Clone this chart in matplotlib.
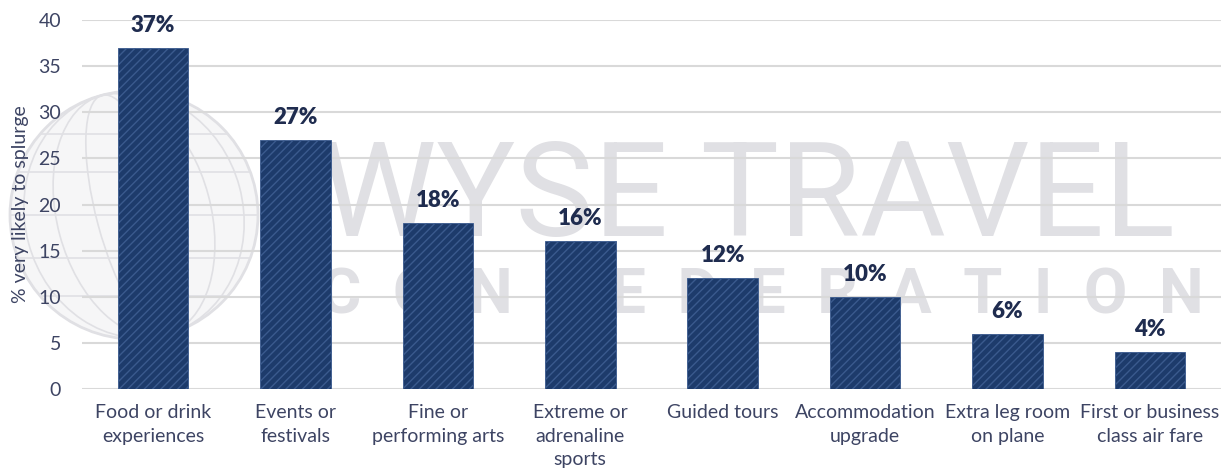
import matplotlib
matplotlib.use("Agg")
import matplotlib.pyplot as plt
from matplotlib.patches import Ellipse, Circle
import numpy as np

categories = ["Food or drink\nexperiences", "Events or\nfestivals", "Fine or\nperforming arts",
              "Extreme or\nadrenaline\nsports", "Guided tours", "Accommodation\nupgrade",
              "Extra leg room\non plane", "First or business\nclass air fare"]
values = [37, 27, 18, 16, 12, 10, 6, 4]
yticks = [0, 5, 10, 15, 20, 25, 30, 35, 40]

plt.rcParams['font.family'] = ['Lato', 'DejaVu Sans']
plt.rcParams['hatch.linewidth'] = 1.0

fig = plt.figure(figsize=(12.29, 4.72), dpi=100)
ax = fig.add_axes([0.0667, 0.1758, 0.9268, 0.7818])

text_col = '#3d4463'
bar_col = '#1d3b6b'
wm_col = '#e0e0e4'

# watermark (globe + text) in figure pixel coords, behind axes
fax = fig.add_axes([0, 0, 1, 1], zorder=-1)
fax.set_xlim(0, 1229)
fax.set_ylim(472, 0)
fax.axis('off')
gx, gy, gr = 134, 215, 124
fax.add_patch(Circle((gx, gy), gr, fc='#f6f6f7', ec=wm_col, lw=2))
for w in [0.3, 0.62, 0.88]:
    fax.add_patch(Ellipse((gx, gy), 2 * gr * w, 2 * gr, angle=-15, fill=False,
                          ec=wm_col, lw=1.2))
for h in [-0.65, -0.35, 0.0, 0.35, 0.65]:
    yy = gy + gr * h
    half = gr * np.sqrt(1 - h * h)
    fax.plot([gx - half, gx + half], [yy, yy], color=wm_col, lw=1.2)

renderer = fig.canvas.get_renderer()


def fit_text(s, x0, x1, ybase, size0, **kw):
    t = fax.text(x0, ybase, s, fontsize=size0, color=wm_col, ha='left', va='baseline', **kw)
    bb = t.get_window_extent(renderer)
    t.set_fontsize(size0 * (x1 - x0) / bb.width)
    return t


fit_text("WYSE TRAVEL", 320, 1175, 236, 100, fontfamily='Roboto', fontweight='normal')
fit_text("C  O  N  F  E  D  E  R  A  T  I  O  N", 320, 1202, 313, 50,
         fontfamily='Roboto', fontweight='bold')

ax.patch.set_alpha(0)
x = np.arange(len(categories))
ax.bar(x, values, width=0.495, color=bar_col, edgecolor='#3a5a8e', linewidth=0.6,
       hatch='////', zorder=3)
for xi, v in zip(x, values):
    ax.text(xi, v + 1.3, f"{v}%", ha='center', va='bottom', fontsize=16,
            fontweight='heavy', color='#1f2c4f', zorder=4)

ax.set_xlim(-0.5, len(categories) - 0.5)
ax.set_ylim(0, 40)
ax.set_yticks(yticks)
ax.set_yticklabels([str(t) for t in yticks])
ax.yaxis.grid(True, color='#d9d9d9', lw=1.5, zorder=0)
ax.set_axisbelow(True)
for s in ax.spines.values():
    s.set_visible(False)
ax.tick_params(axis='both', length=0, colors=text_col, labelsize=14)
ax.tick_params(axis='y', pad=15)
ax.tick_params(axis='x', pad=11)
ax.set_xticks(x)
ax.set_xticklabels(categories, linespacing=1.45)
ax.set_ylabel("% very likely to splurge", fontsize=14, color=text_col, labelpad=7)

fig.savefig("out.png", dpi=100)
